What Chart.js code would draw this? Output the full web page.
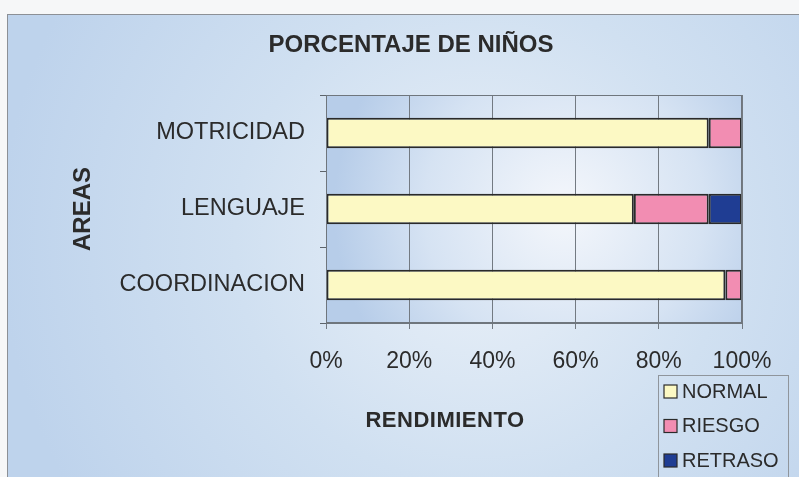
<!DOCTYPE html>
<html>
<head>
<meta charset="utf-8">
<script src="https://cdn.jsdelivr.net/npm/chart.js@4/dist/chart.umd.min.js"></script>
<style>
  html, body { margin: 0; padding: 0; background: #ffffff; }
  #wrap { width: 799px; height: 477px; position: relative; }
</style>
</head>
<body>
<div id="wrap"><canvas id="c" width="799" height="477"></canvas></div>
<script>
// ---- data ----
const categories = ['MOTRICIDAD', 'LENGUAJE', 'COORDINACION'];
const normalValues = [92, 74, 96];
const riesgoValues = [8, 18, 4];
const retrasoValues = [0, 8, 0];
const seriesNames = ['NORMAL', 'RIESGO', 'RETRASO'];
const xTicks = [0, 20, 40, 60, 80, 100];
const chartTitle = 'PORCENTAJE DE NIÑOS';
const xTitle = 'RENDIMIENTO';
const yTitle = 'AREAS';

const FONT = '"Liberation Sans", Arial, sans-serif';
const TEXT = '#2b2b2b';
const colors = ['#fcf9c4', '#f28db2', '#1f3d93'];

const bgPlugin = {
  id: 'bg',
  beforeDraw(chart) {
    const ctx = chart.ctx, W = chart.width, H = chart.height;
    ctx.save();
    ctx.fillStyle = '#f6f7f8';
    ctx.fillRect(0, 0, W, H);
    let g = ctx.createRadialGradient(480, 240, 10, 480, 240, 480);
    g.addColorStop(0, '#e9f0f8');
    g.addColorStop(0.5, '#d0e0f1');
    g.addColorStop(1, '#bed3ec');
    ctx.fillStyle = g;
    ctx.fillRect(7, 14, W - 7, H - 14);
    ctx.strokeStyle = '#8c9096';
    ctx.lineWidth = 1;
    ctx.strokeRect(7.5, 14.5, W - 7, H - 14);
    const a = chart.chartArea;
    const cx = (a.left + a.right) / 2 + 30, cy = (a.top + a.bottom) / 2;
    g = ctx.createRadialGradient(cx, cy, 5, cx, cy, 230);
    g.addColorStop(0, '#f3f6fb');
    g.addColorStop(0.6, '#d6e3f3');
    g.addColorStop(1, '#b7cde9');
    ctx.fillStyle = g;
    ctx.fillRect(a.left, a.top, a.right - a.left, a.bottom - a.top);
    ctx.restore();
  },
  afterDatasetsDraw(chart) {
    const ctx = chart.ctx, a = chart.chartArea;
    ctx.save();
    ctx.strokeStyle = '#6f767d';
    ctx.lineWidth = 1;
    ctx.strokeRect(a.left + 0.5, a.top + 0.5, a.right - a.left - 1, a.bottom - a.top - 1);
    ctx.restore();
  }
};

const textPlugin = {
  id: 'texts',
  afterDraw(chart) {
    const ctx = chart.ctx;
    ctx.save();
    ctx.fillStyle = TEXT;
    ctx.textAlign = 'center';
    ctx.textBaseline = 'middle';
    ctx.font = 'bold 24px ' + FONT;
    ctx.fillText(chartTitle, 411, 45);
    ctx.font = 'bold 22px ' + FONT;
    ctx.letterSpacing = '0.5px';
    ctx.fillText(xTitle, 445, 421);
    ctx.letterSpacing = '0px';
    // legend
    const x0 = 658, y0 = 375, w = 130, h = 108;
    ctx.strokeStyle = '#8f959c';
    ctx.lineWidth = 1;
    ctx.strokeRect(x0 + 0.5, y0 + 0.5, w, h);
    ctx.font = '20px ' + FONT;
    ctx.textAlign = 'left';
    chart.data.datasets.forEach((ds, i) => {
      const cy = 391 + i * 34.5;
      ctx.fillStyle = ds.backgroundColor;
      ctx.fillRect(664, cy - 6, 13, 13);
      ctx.strokeStyle = '#2b2b2b';
      ctx.lineWidth = 1.2;
      ctx.strokeRect(664, cy - 6, 13, 13);
      ctx.fillStyle = TEXT;
      ctx.fillText(ds.label, 682, cy + 1);
    });
    ctx.restore();
  }
};

const seriesData = [normalValues, riesgoValues, retrasoValues];

new Chart(document.getElementById('c'), {
  type: 'bar',
  data: {
    labels: categories,
    datasets: seriesNames.map((name, i) => ({
      label: name,
      data: seriesData[i],
      backgroundColor: colors[i],
      borderColor: '#2a2a2a',
      borderWidth: 2,
      borderSkipped: false,
      categoryPercentage: 1.0,
      barPercentage: 0.4
    }))
  },
  options: {
    indexAxis: 'y',
    responsive: false,
    animation: false,
    layout: { padding: { top: 95, right: 57, bottom: 0, left: 0 } },
    plugins: {
      legend: { display: false },
      tooltip: { enabled: false },
      title: { display: false }
    },
    scales: {
      x: {
        stacked: true,
        min: 0,
        max: 100,
        afterBuildTicks(scale) { scale.ticks = xTicks.map(v => ({ value: v })); },
        afterFit(scale) { scale.height = 154; },
        ticks: {
          color: TEXT,
          font: { family: FONT, size: 23 },
          padding: 19,
          callback: v => v + '%'
        },
        grid: { color: '#737a82', lineWidth: 1, tickLength: 6, tickColor: '#737a82' },
        border: { display: true, color: '#6f767d' }
      },
      y: {
        stacked: true,
        afterFit(scale) { scale.width = 326; },
        ticks: {
          color: TEXT,
          font: { family: FONT, size: 23.5 },
          padding: 15
        },
        grid: { drawOnChartArea: false, tickLength: 6, color: '#5d646b', offset: true },
        border: { display: true, color: '#6f767d' },
        title: {
          display: true,
          text: yTitle,
          color: TEXT,
          font: { family: FONT, size: 24, weight: 'bold' },
          padding: { top: 69, bottom: 23 }
        }
      }
    }
  },
  plugins: [bgPlugin, textPlugin]
});
</script>
</body>
</html>
